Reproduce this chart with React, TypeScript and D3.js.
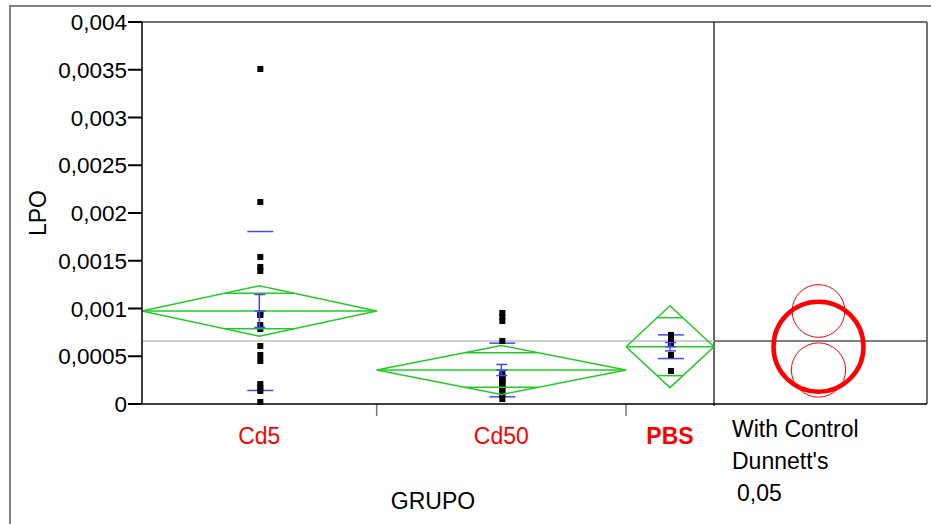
import * as d3 from "d3";
import * as React from "react";

// groups on the x axis, band width proportional to n
const groups = ["Cd5", "Cd50", "PBS"];
const groupN = [16, 17, 6];
const controlGroup = "PBS";

// LPO values per group
const cd5 = [
  0.003508, 0.002115, 0.001539, 0.001435, 0.001393, 0.000942, 0.000932, 0.000827,
  0.000785, 0.000607, 0.000513, 0.00045, 0.000209, 0.000168, 0.000136, 0.000021,
];
const cd50 = [
  0.000953, 0.000911, 0.000869, 0.00066, 0.000314, 0.000293, 0.000272, 0.000262,
  0.000241, 0.00023, 0.000209, 0.000188, 0.000168, 0.000147, 0.000115, 0.000094,
  0.000052,
];
const pbs = [0.000723, 0.000702, 0.000681, 0.000639, 0.000513, 0.000346];
const groupValues = [cd5, cd50, pbs];

// summary stats
const groupMeans = [0.000974, 0.000356, 0.0006];
const ciHalf = [0.000264, 0.000257, 0.000429];
const seHalf = [0.000173, 0.000058, 0.000044];
const sdHalf = [0.000832, 0.000281, 0.000124];
const circleRadius = [0.000276, 0.000284, 0.000471];
const grandMean = 0.00066;

const yTicks = [0, 0.0005, 0.001, 0.0015, 0.002, 0.0025, 0.003, 0.0035, 0.004];
const circleLabels = ["With Control", "Dunnett's", "0,05"];

const GREEN = "#22cc22";
const BLUE = "#4646ff";
const RED = "#ff0000";
const FONT = "'Liberation Sans', Arial, sans-serif";

export default function App() {
  const left = 142,
    plotRight = 714,
    right = 927,
    top = 22,
    bottom = 404;

  const y = d3.scaleLinear().domain([0, 0.004]).range([bottom, top]);
  const x = d3.scaleLinear().domain([0, d3.sum(groupN)]).range([left, plotRight]);
  const cum = [0, ...d3.cumsum(groupN)];
  const fmt = d3
    .formatLocale({ decimal: ",", thousands: ".", grouping: [3], currency: ["", ""] })
    .format("~g");

  const panelCx = (plotRight + right) / 2 - 2;

  return (
    <svg
      width={931}
      height={524}
      style={{ position: "absolute", left: 0, top: 0, background: "#fff" }}
      fontFamily={FONT}
    >
      {/* outer frame */}
      <rect x={10} y={6} width={1000} height={1000} fill="none" stroke="#808080" strokeWidth={2} />

      {/* plot frame */}
      <line x1={left} x2={right} y1={top} y2={top} stroke="#707070" strokeWidth={2} />
      <line x1={right} x2={right} y1={top} y2={bottom} stroke="#707070" strokeWidth={2} />
      <line x1={plotRight} x2={plotRight} y1={top} y2={bottom + 2} stroke="#333" strokeWidth={1.5} />

      {/* grand mean */}
      <line x1={left} x2={plotRight} y1={y(grandMean)} y2={y(grandMean)} stroke="#cfcfcf" strokeWidth={2} />
      <line x1={plotRight} x2={right} y1={y(grandMean)} y2={y(grandMean)} stroke="#555" strokeWidth={1.5} />

      {groups.map((g, i) => {
        const x0 = x(cum[i]),
          x1 = x(cum[i + 1]),
          xc = (x0 + x1) / 2;
        const m = groupMeans[i];
        const hw = (x1 - x0) / 2;
        const ov = ciHalf[i] / Math.SQRT2;
        const ovw = hw * (1 - 1 / Math.SQRT2);
        const diamond = d3.line()([
          [x0, y(m)],
          [xc, y(m + ciHalf[i])],
          [x1, y(m)],
          [xc, y(m - ciHalf[i])],
          [x0, y(m)],
        ]);
        return (
          <g key={g}>
            {/* std dev lines */}
            {[m + sdHalf[i], m - sdHalf[i]].map((v, k) => (
              <line key={k} x1={xc - 12} x2={xc + 14} y1={y(v)} y2={y(v)} stroke={BLUE} strokeWidth={1.5} />
            ))}
            {/* points */}
            {groupValues[i].map((v, k) => (
              <rect key={k} x={xc + 1 - 3} y={y(v) - 3} width={6} height={6} fill="#000" />
            ))}
            {/* diamond */}
            <path d={diamond} fill="none" stroke={GREEN} strokeWidth={1.5} />
            <line x1={x0} x2={x1} y1={y(m)} y2={y(m)} stroke={GREEN} strokeWidth={1.5} />
            {[m + ov, m - ov].map((v, k) => (
              <line key={k} x1={xc - ovw} x2={xc + ovw} y1={y(v)} y2={y(v)} stroke={GREEN} strokeWidth={1.5} />
            ))}
            {/* mean error bar */}
            <line x1={xc} x2={xc} y1={y(m + seHalf[i])} y2={y(m - seHalf[i])} stroke={BLUE} strokeWidth={1.5} />
            {[m + seHalf[i], m, m - seHalf[i]].map((v, k) => (
              <line key={k} x1={xc - 5} x2={xc + 6} y1={y(v)} y2={y(v)} stroke={BLUE} strokeWidth={1.5} />
            ))}
            {/* category tick + label */}
            {i > 0 && <line x1={x0} x2={x0} y1={bottom} y2={bottom + 12} stroke="#777" strokeWidth={1.5} />}
            <text
              x={xc}
              y={444}
              textAnchor="middle"
              fill={RED}
              fontSize={23}
              fontWeight={g === controlGroup ? "bold" : "normal"}
            >
              {g}
            </text>
            {/* comparison circle */}
            <circle
              cx={panelCx}
              cy={y(m)}
              r={y(0) - y(circleRadius[i])}
              fill="none"
              stroke={RED}
              strokeWidth={g === controlGroup ? 4.5 : 1}
            />
          </g>
        );
      })}

      {/* axes */}
      <line x1={left} x2={left} y1={top} y2={bottom} stroke="#000" strokeWidth={1.5} />
      <line x1={left} x2={right} y1={bottom} y2={bottom} stroke="#000" strokeWidth={1.5} />
      {yTicks.map((t) => (
        <g key={t}>
          <line x1={left - 14} x2={left} y1={y(t)} y2={y(t)} stroke="#000" strokeWidth={2} />
          <text x={left - 15} y={y(t) + 8} textAnchor="end" fontSize={22.5} fill="#000">
            {fmt(t)}
          </text>
        </g>
      ))}
      <text transform={`translate(46,213) rotate(-90)`} textAnchor="middle" fontSize={23}>
        LPO
      </text>
      <text x={433} y={509} textAnchor="middle" fontSize={23}>
        GRUPO
      </text>
      {circleLabels.map((s, i) => (
        <text key={s} x={i === 2 ? 737 : 732} y={437 + i * 32} fontSize={23}>
          {s}
        </text>
      ))}
    </svg>
  );
}
